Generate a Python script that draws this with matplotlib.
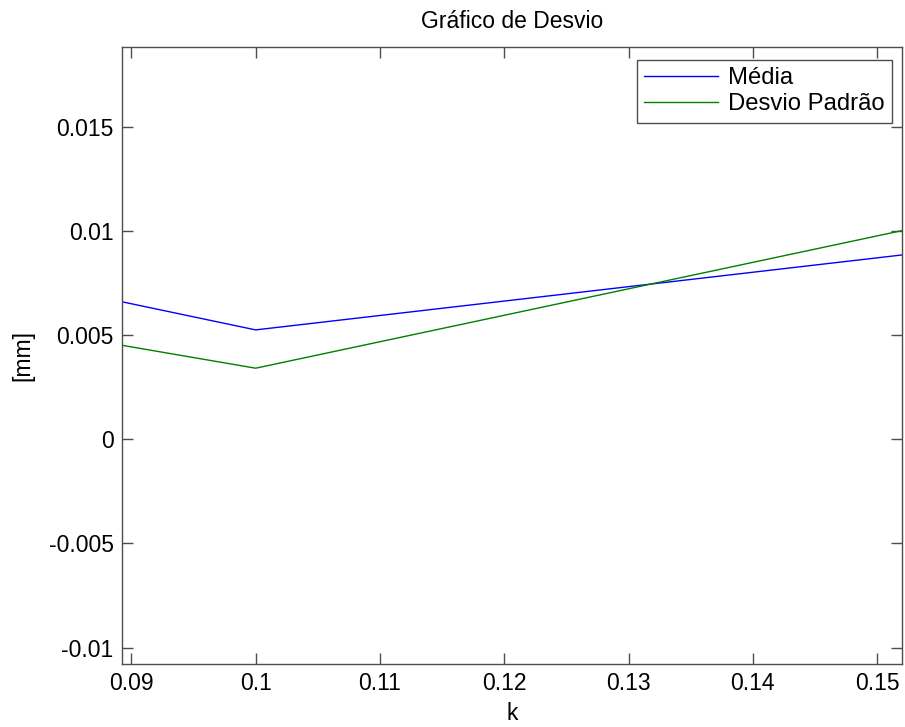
import matplotlib

matplotlib.use("Agg")
import matplotlib.pyplot as plt

plt.rcParams["font.family"] = ["Liberation Sans", "DejaVu Sans"]

# values
k_values = [0.08925, 0.1, 0.152]
media = [0.00661, 0.00526, 0.00886]
desvio_padrao = [0.00452, 0.00342, 0.01003]

x_ticks = [0.09, 0.1, 0.11, 0.12, 0.13, 0.14, 0.15]
x_tick_labels = ["0.09", "0.1", "0.11", "0.12", "0.13", "0.14", "0.15"]
y_ticks = [-0.01, -0.005, 0, 0.005, 0.01, 0.015]
y_tick_labels = ["-0.01", "-0.005", "0", "0.005", "0.01", "0.015"]

FONT_SIZE = 16.5
AXIS_COLOR = "#4d4d4d"

fig = plt.figure(figsize=(9.05, 7.27), dpi=100)
ax = fig.add_axes([122 / 905, 63 / 727, 780 / 905, 617 / 727])

ax.plot(k_values, media, color=(0, 0, 1), linewidth=1.0, label="Média")
ax.plot(k_values, desvio_padrao, color=(0, 0.5, 0), linewidth=1.0, label="Desvio Padrão")

ax.set_xlim(0.08925, 0.152)
ax.set_ylim(-0.01079, 0.01885)
ax.set_xticks(x_ticks)
ax.set_xticklabels(x_tick_labels)
ax.set_yticks(y_ticks)
ax.set_yticklabels(y_tick_labels)

for spine in ax.spines.values():
    spine.set_color(AXIS_COLOR)
    spine.set_linewidth(1.0)
ax.tick_params(
    direction="in",
    length=8,
    width=1.0,
    color=AXIS_COLOR,
    labelsize=FONT_SIZE,
    labelcolor="black",
    top=True,
    right=True,
    pad=6,
)

ax.set_title("Gráfico de Desvio", fontsize=FONT_SIZE, pad=14)
ax.set_xlabel("k", fontsize=FONT_SIZE, labelpad=5)
ax.set_ylabel("[mm]", fontsize=FONT_SIZE, labelpad=10)

legend = ax.legend(
    loc="upper right",
    bbox_to_anchor=(892 / 905, 1 - 60 / 727),
    bbox_transform=fig.transFigure,
    fontsize=17.2,
    frameon=True,
    fancybox=False,
    handlelength=3.1,
    handletextpad=0.42,
    borderpad=0.3,
    borderaxespad=0,
    labelspacing=0.18,
)
frame = legend.get_frame()
frame.set_edgecolor(AXIS_COLOR)
frame.set_linewidth(1.0)
frame.set_alpha(1.0)

fig.savefig("out.png", dpi=100)
